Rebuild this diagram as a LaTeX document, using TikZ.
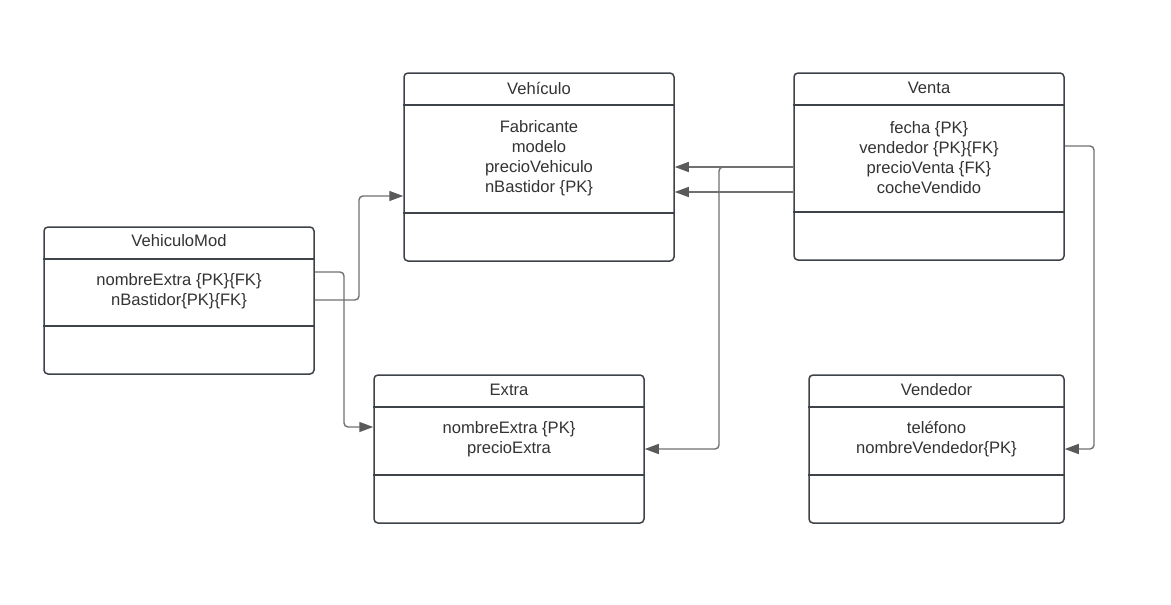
\documentclass[tikz,border=0pt]{standalone}
\usepackage{fontspec}
\setmainfont{Liberation Sans}
\usetikzlibrary{arrows.meta}
\definecolor{boxc}{HTML}{3E434A}
\definecolor{linec}{HTML}{707070}
\definecolor{tipc}{HTML}{5A5A5A}
\definecolor{txtc}{HTML}{333333}
\tikzset{
  ent/.style={draw=boxc, line width=1.5pt, rounded corners=4pt, inner sep=0pt, fill=white},
  divider/.style={draw=boxc, line width=1.5pt},
  txt/.style={text=txtc, font=\fontsize{16.6}{20}\selectfont, align=center, inner sep=0pt},
  conn/.style={draw=linec, line width=1.4pt, rounded corners=4pt,
    -{Triangle[length=14pt,width=10pt,fill=tipc,color=tipc]}},
}
\begin{document}
\begin{tikzpicture}[x=1pt,y=-1pt]
\useasboundingbox (0,0) rectangle (1171,605);
% boxes
\node[ent, minimum width=270pt, minimum height=188pt] (veh) at (539,167) {};
\node[ent, minimum width=270pt, minimum height=187pt] (ven) at (929,166.5) {};
\node[ent, minimum width=270pt, minimum height=147pt] (vm) at (179,300.5) {};
\node[ent, minimum width=270pt, minimum height=148pt] (ext) at (509,449) {};
\node[ent, minimum width=255pt, minimum height=148pt] (vdr) at (936.5,449) {};
% dividers
\draw[divider] (veh.west |- 0,105) -- (veh.east |- 0,105);
\draw[divider] (veh.west |- 0,213) -- (veh.east |- 0,213);
\draw[divider] (ven.west |- 0,105) -- (ven.east |- 0,105);
\draw[divider] (ven.west |- 0,212) -- (ven.east |- 0,212);
\draw[divider] (vm.west |- 0,259) -- (vm.east |- 0,259);
\draw[divider] (vm.west |- 0,326) -- (vm.east |- 0,326);
\draw[divider] (ext.west |- 0,407) -- (ext.east |- 0,407);
\draw[divider] (ext.west |- 0,475) -- (ext.east |- 0,475);
\draw[divider] (vdr.west |- 0,407) -- (vdr.east |- 0,407);
\draw[divider] (vdr.west |- 0,475) -- (vdr.east |- 0,475);
% texts
\node[txt] (vehT) at (539,88) {Vehículo};
\node[txt] (vehB) at (539,158) {Fabricante\\modelo\\precioVehiculo\\nBastidor \{PK\}};
\node[txt] (venT) at (929,88) {Venta};
\node[txt] (venB) at (929,158) {fecha \{PK\}\\vendedor \{PK\}\{FK\}\\precioVenta \{FK\}\\cocheVendido};
\node[txt] (vmT) at (179,241) {VehiculoMod};
\node[txt] (vmB) at (179,291) {nombreExtra \{PK\}\{FK\}\\nBastidor\{PK\}\{FK\}};
\node[txt] (extT) at (509,390) {Extra};
\node[txt] (extB) at (509,439) {nombreExtra \{PK\}\\precioExtra};
\node[txt] (vdrT) at (936.5,390) {Vendedor};
\node[txt] (vdrB) at (936.5,439) {teléfono\\nombreVendedor\{PK\}};
% connectors
\draw[conn] (vm.east |- 0,300) -- (359,300) -- (359,196) -- (veh.west |- 0,196);
\draw[conn] (vm.east |- 0,272) -- (344,272) -- (344,427) -- (ext.west |- 0,427);
\draw[conn] (ven.west |- 0,167) -- (veh.east |- 0,167);
\draw[conn] (ven.west |- 0,192) -- (veh.east |- 0,192);
\draw[conn] (ven.west |- 0,167) -- (719,167) -- (719,449) -- (ext.east |- 0,449);
\draw[conn] (ven.east |- 0,146) -- (1094,146) -- (1094,449) -- (vdr.east |- 0,449);
\end{tikzpicture}
\end{document}
